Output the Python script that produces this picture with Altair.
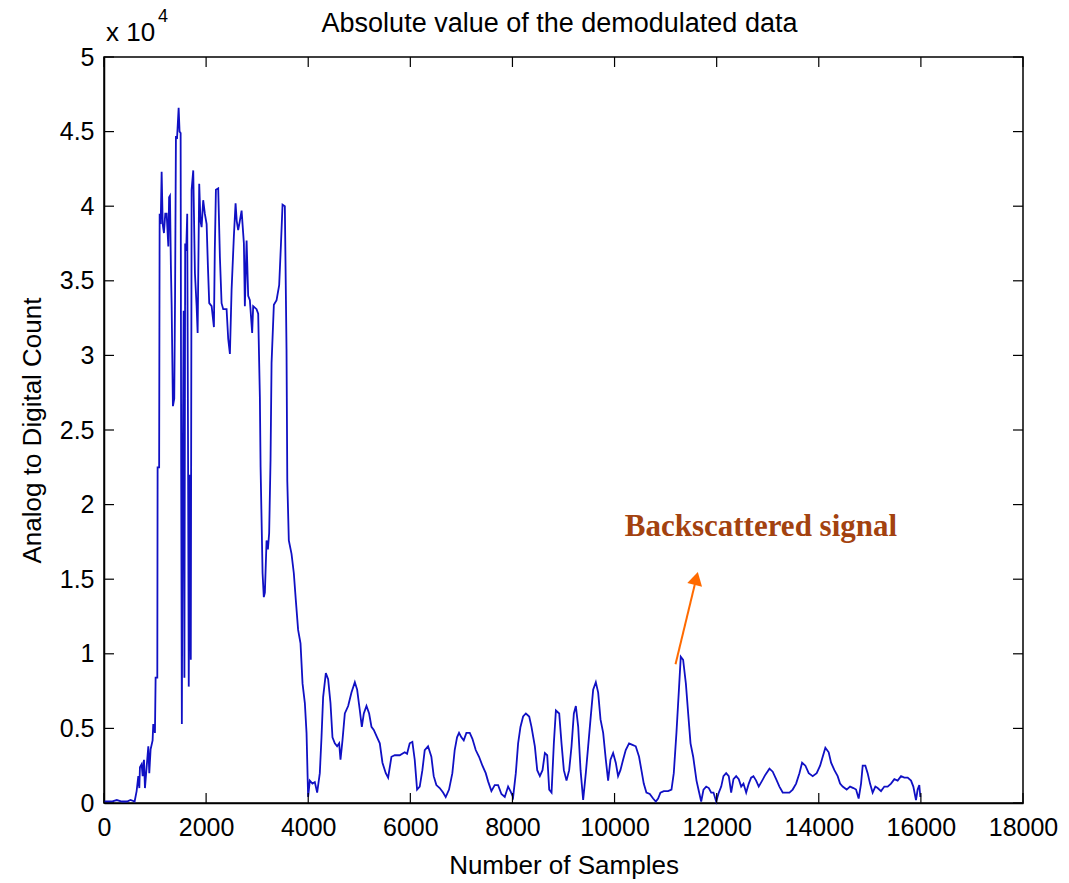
import altair as alt
import pandas as pd

# ---- data (samples, ADC counts) ----
samples = [
    0, 150, 250, 350, 450, 520, 600, 639, 672, 692, 704, 737, 757, 783, 802, 835, 868, 887, 913, 952,
    965, 998, 1011, 1044, 1050, 1080, 1090, 1110, 1129, 1150, 1174, 1200, 1227, 1260, 1275, 1292, 1310, 1325, 1350, 1376,
    1392, 1409, 1430, 1462, 1480, 1501, 1512, 1525, 1540, 1560, 1575, 1590, 1610, 1630, 1645, 1660, 1680, 1700, 1716, 1748,
    1781, 1814, 1834, 1865, 1890, 1912, 1943, 1975, 2010, 2035, 2061, 2108, 2153, 2170, 2192, 2237, 2270, 2303, 2335, 2401,
    2433, 2466, 2499, 2544, 2577, 2600, 2628, 2660, 2695, 2740, 2759, 2793, 2824, 2857, 2902, 2922, 2988, 3020, 3053, 3067,
    3106, 3130, 3151, 3184, 3210, 3235, 3262, 3282, 3327, 3380, 3431, 3464, 3497, 3542, 3575, 3590, 3620, 3673, 3718, 3757,
    3802, 3849, 3889, 3934, 3967, 3998, 4031, 4083, 4129, 4175, 4227, 4260, 4292, 4345, 4390, 4436, 4475, 4521, 4566, 4606,
    4632, 4671, 4717, 4782, 4847, 4913, 4958, 5011, 5050, 5089, 5141, 5193, 5239, 5284, 5349, 5402, 5454, 5519, 5565, 5630,
    5695, 5792, 5890, 5936, 5988, 6040, 6086, 6132, 6184, 6236, 6282, 6347, 6412, 6458, 6510, 6575, 6641, 6693, 6758, 6823,
    6869, 6915, 6954, 7000, 7046, 7098, 7164, 7216, 7281, 7346, 7412, 7477, 7523, 7588, 7653, 7719, 7784, 7850, 7915, 7961,
    8013, 8066, 8111, 8157, 8209, 8263, 8328, 8373, 8439, 8485, 8537, 8589, 8635, 8681, 8720, 8766, 8811, 8851, 8916, 8961,
    9007, 9059, 9111, 9157, 9203, 9242, 9288, 9334, 9385, 9437, 9483, 9529, 9581, 9633, 9679, 9725, 9777, 9829, 9874, 9920,
    9972, 10024, 10069, 10115, 10167, 10219, 10284, 10350, 10415, 10480, 10526, 10572, 10624, 10690, 10755, 10808, 10853, 10899, 10964, 11049,
    11115, 11160, 11212, 11264, 11297, 11343, 11397, 11442, 11488, 11540, 11605, 11650, 11697, 11742, 11795, 11846, 11893, 11938, 11991, 12042,
    12089, 12133, 12186, 12237, 12284, 12329, 12382, 12433, 12480, 12525, 12578, 12629, 12675, 12720, 12773, 12824, 12891, 12955, 13034, 13098,
    13165, 13229, 13294, 13360, 13425, 13489, 13556, 13621, 13673, 13738, 13803, 13881, 13959, 14026, 14077, 14129, 14194, 14241, 14306, 14370,
    14417, 14468, 14546, 14613, 14678, 14730, 14781, 14828, 14860, 14912, 14957, 15004, 15055, 15108, 15153, 15219, 15284, 15349, 15415, 15480,
    15545, 15611, 15676, 15741, 15807, 15852, 15904, 15936, 15969, 15989,
]
counts = [
    100, 100, 200, 100, 100, 200, 100, 800, 1800, 1000, 2400, 2600, 1800, 2900, 1000, 2400, 3800, 2000, 3600, 4200,
    5300, 4700, 8400, 8400, 22500, 22500, 39500, 38800, 42300, 38800, 38200, 39500, 39500, 37300, 40600, 40700, 36000, 33300, 26600, 27100,
    34000, 44700, 44500, 46600, 45000, 44900, 22000, 5300, 21000, 33000, 8400, 37500, 37000, 39500, 25000, 7800, 22000, 9600, 41100, 42400,
    35500, 33300, 31500, 41500, 39000, 38600, 40400, 39500, 38800, 36000, 33500, 33300, 31900, 37000, 41100, 41200, 36600, 33500, 33100, 33100,
    31100, 30100, 34400, 38000, 40200, 39000, 38400, 39000, 39700, 37500, 33300, 37700, 34000, 33700, 31500, 33300, 33100, 32800, 27200, 22500,
    15400, 13800, 14100, 17600, 17000, 18100, 23000, 29500, 33400, 33700, 34700, 37300, 40100, 40000, 30400, 21600, 17600, 16700, 15400, 13600,
    11600, 10700, 8000, 6700, 4700, 400, 1500, 1300, 1400, 700, 2000, 4400, 7100, 8700, 8300, 6700, 4400, 4000, 3800, 4000,
    2900, 4200, 6000, 6500, 7400, 8100, 7600, 6200, 5100, 6000, 6500, 6000, 5100, 4900, 4400, 4000, 2700, 2000, 1700, 3100,
    3200, 3200, 3400, 3300, 4000, 4100, 2900, 900, 1100, 2200, 3550, 3800, 3100, 1800, 1200, 1000, 700, 400, 900, 2000,
    3550, 4400, 4700, 4400, 4200, 4700, 4700, 4300, 3550, 3100, 2500, 2000, 1450, 800, 1200, 1200, 600, 400, 1100, 800,
    400, 2000, 4000, 5100, 5800, 6000, 5800, 5100, 3800, 2200, 1800, 2200, 3350, 3200, 900, 700, 4000, 6200, 6000, 4000,
    2200, 1500, 2200, 3800, 6000, 6500, 5100, 2200, 200, 2000, 3800, 5600, 7600, 8100, 7400, 5600, 4700, 2900, 1500, 2900,
    3350, 2700, 1800, 2200, 2900, 3550, 4000, 3900, 3800, 3100, 2200, 1300, 700, 600, 300, 100, 300, 700, 800, 800,
    900, 2000, 4700, 7800, 9800, 9600, 8000, 6000, 4000, 3100, 1500, 800, 100, 900, 1100, 1000, 700, 700, 100, 700,
    1100, 1800, 2000, 1800, 700, 1600, 1800, 1600, 1100, 1300, 700, 1300, 1700, 1800, 1500, 1100, 1500, 1900, 2300, 2100,
    1600, 1100, 700, 700, 700, 900, 1300, 2000, 2700, 2500, 2000, 1800, 2000, 2500, 3100, 3700, 3400, 2700, 2200, 1800,
    1300, 1100, 900, 1100, 1000, 900, 300, 1300, 2500, 2500, 2000, 1300, 700, 1100, 1000, 800, 1100, 1100, 1300, 1600,
    1500, 1800, 1700, 1700, 1500, 1100, 200, 900, 1200, 400,
]

x_ticks = [0, 2000, 4000, 6000, 8000, 10000, 12000, 14000, 16000, 18000]
y_ticks = [0, 5000, 10000, 15000, 20000, 25000, 30000, 35000, 40000, 45000, 50000]

title_text = "Absolute value of the demodulated data"
x_title = "Number of Samples"
y_title = "Analog to Digital Count"
note_text = "Backscattered signal"
# annotation anchor points (data units)
note_pos = {"x": 10200, "y": 18500}
arrow_from = {"x": 11194, "y": 9300}
arrow_to = {"x": 11600, "y": 15050}

W, H = 919, 746
FONT = "Liberation Sans"

df = pd.DataFrame({"sample": samples, "count": counts})
xs = alt.Scale(domain=[0, 18000], nice=False, zero=False)
ys = alt.Scale(domain=[0, 50000], nice=False)

line = alt.Chart(df).mark_line(color="#1010c4", strokeWidth=1.8).encode(
    x=alt.X("sample:Q", scale=xs,
            axis=alt.Axis(values=x_ticks, format="d", title=x_title, ticks=False, labelOverlap=False,
                          labelFlush=False, labelBound=False,
                          labelPadding=12, titlePadding=12, grid=False)),
    y=alt.Y("count:Q", scale=ys,
            axis=alt.Axis(values=y_ticks, labelExpr="'' + datum.value / 10000", title=y_title,
                          labelOverlap=False, labelFlush=False, labelBound=False,
                          ticks=False, labelPadding=10, titlePadding=14, grid=False)),
)

xt = pd.DataFrame({"t": x_ticks})
yt = pd.DataFrame({"t": y_ticks})
tick_style = dict(color="black", strokeWidth=1.2)
xb = alt.Chart(xt).mark_rule(**tick_style).encode(x=alt.X("t:Q", scale=xs), y=alt.value(H), y2=alt.value(H - 10))
xtp = alt.Chart(xt).mark_rule(**tick_style).encode(x=alt.X("t:Q", scale=xs), y=alt.value(0), y2=alt.value(10))
yl = alt.Chart(yt).mark_rule(**tick_style).encode(y=alt.Y("t:Q", scale=ys), x=alt.value(0), x2=alt.value(10))
yr = alt.Chart(yt).mark_rule(**tick_style).encode(y=alt.Y("t:Q", scale=ys), x=alt.value(W), x2=alt.value(W - 10))

one = pd.DataFrame({"k": [0]})
arrow_df = pd.DataFrame({"x": [arrow_from["x"]], "y": [arrow_from["y"]],
                         "x2": [arrow_to["x"]], "y2": [arrow_to["y"]]})
arrow = alt.Chart(arrow_df).mark_rule(color="#ff6a00", strokeWidth=2).encode(
    x=alt.X("x:Q", scale=xs), y=alt.Y("y:Q", scale=ys), x2="x2:Q", y2="y2:Q")
head = alt.Chart(pd.DataFrame({"x": [arrow_to["x"]], "y": [arrow_to["y"]]})).mark_point(
    shape="triangle-up", filled=True, color="#ff6a00", opacity=1, size=230, angle=14).encode(
    x=alt.X("x:Q", scale=xs), y=alt.Y("y:Q", scale=ys))
note = alt.Chart(pd.DataFrame({"x": [note_pos["x"]], "y": [note_pos["y"]], "t": [note_text]})).mark_text(
    font="Liberation Serif", fontWeight="bold", fontSize=31, color="#a3420f", align="left",
    baseline="middle").encode(x=alt.X("x:Q", scale=xs), y=alt.Y("y:Q", scale=ys), text="t:N")

title = alt.Chart(one).mark_text(font=FONT, fontSize=27, align="center", baseline="middle", color="black").encode(
    x=alt.value(W / 2 - 4), y=alt.value(-33), text=alt.value(title_text))
mult = alt.Chart(one).mark_text(font=FONT, fontSize=26, align="left", baseline="middle", color="black").encode(
    x=alt.value(2), y=alt.value(-24), text=alt.value("x 10"))
expo = alt.Chart(one).mark_text(font=FONT, fontSize=18, align="left", baseline="middle", color="black").encode(
    x=alt.value(54), y=alt.value(-40), text=alt.value("4"))

chart = alt.layer(line, xb, xtp, yl, yr, arrow, head, note, title, mult, expo).properties(
    width=W, height=H,
    autosize=alt.AutoSizeParams(type="none"),
    padding={"left": 104, "top": 57, "right": 46, "bottom": 80},
    background="white",
).configure_view(stroke="black", strokeWidth=1.5).configure_axis(
    labelFont=FONT, titleFont=FONT, labelFontSize=25, titleFontSize=26, titleFontWeight="normal",
    labelColor="black", titleColor="black", domainColor="black", domainWidth=1.5,
)

chart.save("out.html", embed_options={"renderer": "svg", "actions": False})
